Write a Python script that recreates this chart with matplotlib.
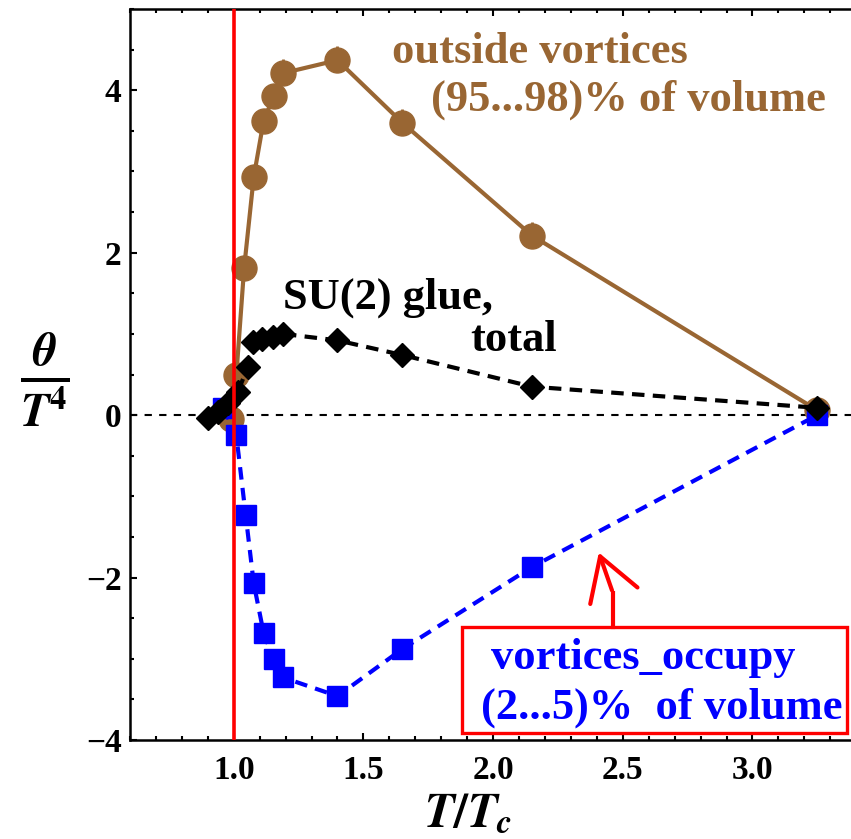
import numpy as np
import matplotlib.pyplot as plt
from matplotlib.patches import Rectangle
from matplotlib.ticker import MultipleLocator

plt.rcParams['font.family'] = ['Liberation Serif', 'DejaVu Serif']
plt.rcParams['font.weight'] = 'bold'
plt.rcParams['mathtext.fontset'] = 'stix'

# T/Tc values and theta/T^4 for the three curves
t_out = [0.99, 1.01, 1.04, 1.077, 1.115, 1.154, 1.19, 1.40, 1.65, 2.15, 3.25]
theta_out = [-0.05, 0.49, 1.81, 2.93, 3.62, 3.93, 4.21, 4.37, 3.60, 2.21, 0.06]
err_out = [0.0, 0.0, 0.0, 0.0, 0.0, 0.0, 0.17, 0.17, 0.17, 0.17, 0.0]

t_tot = [0.90, 0.94, 0.977, 1.015, 1.054, 1.073, 1.11, 1.15, 1.19, 1.40, 1.65, 2.15, 3.25]
theta_tot = [-0.04, 0.04, 0.15, 0.28, 0.59, 0.90, 0.94, 0.96, 1.00, 0.92, 0.74, 0.35, 0.09]

t_vort = [0.96, 1.01, 1.046, 1.077, 1.115, 1.154, 1.19, 1.40, 1.65, 2.15, 3.25]
theta_vort = [0.09, -0.25, -1.23, -2.07, -2.68, -3.00, -3.23, -3.46, -2.88, -1.87, 0.0]

Tc = 1.0
brown = '#996633'

fig = plt.figure(figsize=(8.51, 8.39), dpi=100)
ax = fig.add_axes([130/851, 99/839, 721/851, 731/839])

ax.axhline(0, color='black', lw=1.5, ls=(0, (3.5, 3.5)), zorder=1)

ax.errorbar(t_out, theta_out, yerr=[np.zeros(len(err_out)), err_out], color=brown,
            lw=3, marker='o', ms=18, elinewidth=2, capsize=0, zorder=3)
ax.plot(t_vort, theta_vort, color='#0000ff', lw=3, ls=(0, (3, 2)),
        marker='s', ms=14, zorder=4)
ax.plot(t_tot, theta_tot, color='black', lw=3, ls=(0, (3, 2)),
        marker='D', ms=12, zorder=5)
ax.axvline(Tc, color='red', lw=2.6, zorder=10)

ax.set_xlim(0.6, 3.38)
ax.set_ylim(-4, 5)
ax.xaxis.set_major_locator(MultipleLocator(0.5))
ax.xaxis.set_minor_locator(MultipleLocator(0.1))
ax.yaxis.set_major_locator(MultipleLocator(2))
ax.yaxis.set_minor_locator(MultipleLocator(0.5))
ax.set_yticks([-4, -2, 0, 2, 4])
ax.set_yticklabels(['\u22124', '\u22122', '0', '2', '4'])
ax.set_xticks([1.0, 1.5, 2.0, 2.5, 3.0])
ax.set_xticklabels(['1.0', '1.5', '2.0', '2.5', '3.0'])
ax.tick_params(which='both', direction='in', top=True, right=False, width=1.5,
               labelsize=24)
ax.tick_params(which='major', length=5, pad=6)
ax.tick_params(axis='x', which='major', pad=11)
ax.tick_params(which='minor', length=3)
for s in ['left', 'bottom', 'top']:
    ax.spines[s].set_linewidth(1.8)
ax.spines['right'].set_visible(False)

fs = 32
ax.text(1.61, 4.47, 'outside vortices', color=brown, fontsize=fs, fontweight='bold',
        ha='left', va='center')
ax.text(1.76, 3.88, '(95...98)% of volume', color=brown, fontsize=fs, fontweight='bold',
        ha='left', va='center')
ax.text(1.19, 1.44, 'SU(2) glue,', color='black', fontsize=fs, fontweight='bold',
        ha='left', va='center')
ax.text(1.91, 0.92, 'total', color='black', fontsize=fs, fontweight='bold',
        ha='left', va='center')

ax.add_patch(Rectangle((1.881, -3.91), 1.484, 1.30, facecolor='white',
                       edgecolor='red', lw=2.4, zorder=11))
ax.text(1.99, -2.99, 'vortices_occupy', color='#0000ff', fontsize=fs, fontweight='bold',
        ha='left', va='center', zorder=12)
ax.text(1.955, -3.60, '(2...5)%  of volume', color='#0000ff', fontsize=fs, fontweight='bold',
        ha='left', va='center', zorder=12)

# arrow from box to the blue curve
ax.plot([2.462, 2.462], [-2.61, -2.19], color='red', lw=3, zorder=11)
ax.annotate('', xy=(2.404, -1.66), xytext=(2.462, -2.19),
            arrowprops=dict(arrowstyle='->,head_length=1.0,head_width=0.6',
                            color='red', lw=3, mutation_scale=30), zorder=11)

fig.text(468/851, 1 - 815/839, r'$\boldsymbol{T/T_c}$', fontsize=35,
         ha='center', va='center')
fig.text(45/851, 1 - 380/839, r'$\frac{\boldsymbol{\theta}}{\boldsymbol{T}^{\mathbf{4}}}$',
         fontsize=48, ha='center', va='center')

fig.savefig('out.png', dpi=100)
